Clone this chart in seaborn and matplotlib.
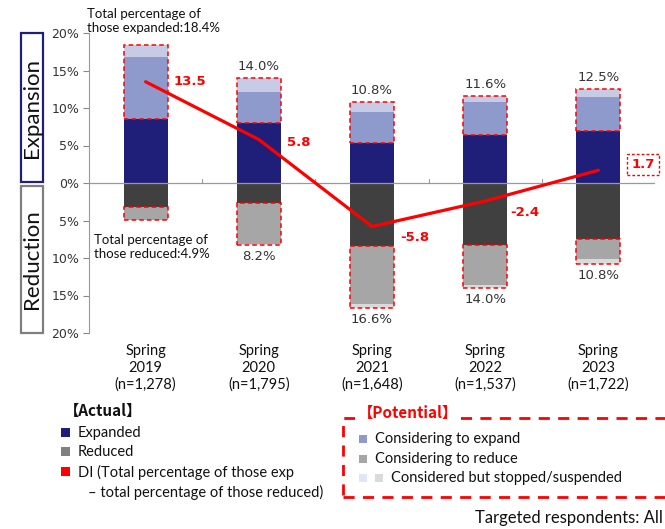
import matplotlib
matplotlib.use("Agg")
import matplotlib.pyplot as plt
from matplotlib.patches import Rectangle
import numpy as np
import pandas as pd
import seaborn as sns

# ---- data -----------------------------------------------------------------
periods = ["Spring\n2019\n(n=1,278)", "Spring\n2020\n(n=1,795)", "Spring\n2021\n(n=1,648)",
           "Spring\n2022\n(n=1,537)", "Spring\n2023\n(n=1,722)"]
expanded = [8.5, 8.0, 5.4, 6.4, 7.0]
considering_expand = [8.3, 4.2, 4.1, 4.4, 4.5]
stopped_expand = [1.6, 1.8, 1.3, 0.8, 1.0]
total_expanded = [18.4, 14.0, 10.8, 11.6, 12.5]

reduced = [3.2, 2.6, 8.4, 8.2, 7.5]
considering_reduce = [1.7, 5.5, 7.7, 5.4, 2.6]
stopped_reduce = [0.0, 0.1, 0.5, 0.4, 0.7]
total_reduced = [4.9, 8.2, 16.6, 14.0, 10.8]

di = [13.5, 5.8, -5.8, -2.4, 1.7]
y_ticks = [20, 15, 10, 5, 0, -5, -10, -15, -20]

# ---- colours --------------------------------------------------------------
C_EXP = "#1f1f7a"
C_CEXP = "#8e9acb"
C_SEXP = "#c7cbe6"
C_RED = "#404040"
C_CRED = "#a6a6a6"
C_SRED = "#dadada"
C_DI = "#ff0000"

sns.set_theme(style="white")
plt.rcParams["font.family"] = ["DejaVu Sans"]
LAT = ["Lato", "DejaVu Sans"]

df = pd.DataFrame({
    "period": periods,
    "exp": expanded,
    "exp_c": np.add(expanded, considering_expand),
    "exp_t": np.add(np.add(expanded, considering_expand), stopped_expand),
    "red": -np.array(reduced),
    "red_c": -np.add(reduced, considering_reduce),
    "red_t": -np.add(np.add(reduced, considering_reduce), stopped_reduce),
    "di": di,
})

fig = plt.figure(figsize=(6.65, 5.29), dpi=100)
ax = fig.add_axes([89 / 665, 1 - 333 / 529, (655 - 89) / 665, (333 - 33) / 529])

W = 0.39
# stacked bars: draw cumulative layers from the outermost inward
for col, colr in [("exp_t", C_SEXP), ("exp_c", C_CEXP), ("exp", C_EXP),
                  ("red_t", C_SRED), ("red_c", C_CRED), ("red", C_RED)]:
    sns.barplot(data=df, x="period", y=col, color=colr, width=W, ax=ax,
                saturation=1, edgecolor="none", linewidth=0, zorder=2)

# dashed outline around the "potential" part of each bar
for i in range(len(periods)):
    ax.add_patch(Rectangle((i - W / 2, df["exp"][i]), W, df["exp_t"][i] - df["exp"][i],
                           fill=False, edgecolor=C_DI, ls=(0, (3, 2)), lw=1.1, zorder=4))
    ax.add_patch(Rectangle((i - W / 2, df["red_t"][i]), W, df["red"][i] - df["red_t"][i],
                           fill=False, edgecolor=C_DI, ls=(0, (3, 2)), lw=1.1, zorder=4))

# DI line
sns.lineplot(data=df, x="period", y="di", color=C_DI, lw=2.3, ax=ax, sort=False, zorder=5)

ax.set_xlim(-0.5, 4.5)
ax.set_ylim(-20, 20)
ax.set_yticks(y_ticks)
ax.set_yticklabels([f"{abs(v)}%" for v in y_ticks], fontsize=9, color="#333333")
ax.set_xticks(range(len(periods)))
ax.set_xticklabels(periods, fontsize=10.5, family=LAT, color="#111111", linespacing=1.25)
ax.tick_params(axis="x", length=0, pad=8)
ax.tick_params(axis="y", length=4, width=0.8, color="#888888", left=True, pad=3)
ax.set_xlabel("")
ax.set_ylabel("")
for s in ["top", "right", "bottom"]:
    ax.spines[s].set_visible(False)
ax.spines["left"].set_color("#999999")
ax.spines["left"].set_linewidth(0.8)
ax.axhline(0, color="#999999", lw=0.9, zorder=3)
# small ticks on the zero line between categories
for b in [0.5, 1.5, 2.5, 3.5, 4.5]:
    ax.plot([b, b], [0, 0.5], color="#999999", lw=0.8, zorder=3)

# totals above / below the bars
for i in range(1, len(periods)):
    ax.text(i, total_expanded[i] + 0.7, f"{total_expanded[i]:.1f}%", ha="center",
            va="bottom", fontsize=9.5, color="#333333")
    ax.text(i, -total_reduced[i] - 0.7, f"{total_reduced[i]:.1f}%", ha="center",
            va="top", fontsize=9.5, color="#333333")

# DI value labels
di_offsets = [(0.25, 0.0), (0.25, -0.4), (0.25, -1.5), (0.22, -1.5)]
for i, (dx, dy) in enumerate(di_offsets):
    ax.text(i + dx, di[i] + dy, f"{di[i]:.1f}", ha="left", va="center",
            fontsize=9.5, color=C_DI, fontweight="bold")
ax.text(4.29, di[4] + 0.8, f"{di[4]:.1f}", ha="left", va="center", fontsize=9.5,
        color=C_DI, fontweight="bold",
        bbox=dict(boxstyle="square,pad=0.3", fc="white", ec=C_DI, ls=(0, (2, 1.5)), lw=1))


def fx(x):
    return x / 665


def fy(y):
    return 1 - y / 529


fig.text(fx(87), fy(21), "Total percentage of\nthose expanded:18.4%", fontsize=9.5,
         family=LAT, color="#111111", va="center", linespacing=1.3)
fig.text(fx(94), fy(247), "Total percentage of\nthose reduced:4.9%", fontsize=9.5,
         family=LAT, color="#111111", va="center", linespacing=1.3)

# side boxes
fig.patches.append(Rectangle((fx(21), fy(182)), fx(22), (182 - 33) / 529, transform=fig.transFigure,
                             fill=False, ec="#1f1f7a", lw=1.6))
fig.patches.append(Rectangle((fx(21), fy(333)), fx(22), (333 - 186) / 529, transform=fig.transFigure,
                             fill=False, ec="#7f7f7f", lw=1.6))
fig.text(fx(32), fy(108), "Expansion", rotation=90, ha="center", va="center", fontsize=16,
         family=LAT, color="#111111")
fig.text(fx(32), fy(259), "Reduction", rotation=90, ha="center", va="center", fontsize=16,
         family=LAT, color="#111111")

# legend: actual
fig.text(fx(64), fy(411), "【Actual】", fontsize=11, fontweight="bold",
         family=["Noto Sans CJK JP", "DejaVu Sans"], va="center", color="#111111")
act = [(C_EXP, "Expanded", 433), ("#808080", "Reduced", 452),
       (C_DI, "DI (Total percentage of those exp", 472)]
for c, lab, y in act:
    fig.patches.append(Rectangle((fx(61), fy(y + 4)), fx(9), 9 / 529, transform=fig.transFigure,
                                 fc=c, ec="none"))
    fig.text(fx(78), fy(y), lab, fontsize=10.5, family=LAT, va="center", color="#111111")
fig.text(fx(88), fy(492), "– total percentage of those reduced)", fontsize=10.5, family=LAT,
         va="center", color="#111111")

# legend: potential
fig.patches.append(Rectangle((fx(343), fy(497)), fx(340), (497 - 418) / 529,
                             transform=fig.transFigure, fill=False, ec=C_DI, lw=2,
                             ls=(0, (4, 3))))
fig.text(fx(358), fy(413), "【Potential】", fontsize=11, fontweight="bold", color=C_DI,
         family=["Noto Sans CJK JP", "DejaVu Sans"], va="center",
         bbox=dict(fc="white", ec="none", pad=2))
pot = [(C_CEXP, "Considering to expand", 439, 375), (C_CRED, "Considering to reduce", 459, 375)]
for c, lab, y, tx in pot:
    fig.patches.append(Rectangle((fx(359), fy(y + 4)), fx(8), 8 / 529, transform=fig.transFigure,
                                 fc=c, ec="none"))
    fig.text(fx(tx), fy(y), lab, fontsize=10.5, family=LAT, va="center", color="#111111")
fig.patches.append(Rectangle((fx(359), fy(482)), fx(8), 8 / 529, transform=fig.transFigure,
                             fc="#dde7f5", ec="none"))
fig.patches.append(Rectangle((fx(375), fy(482)), fx(8), 8 / 529, transform=fig.transFigure,
                             fc=C_SRED, ec="none"))
fig.text(fx(391), fy(478), "Considered but stopped/suspended", fontsize=10.5, family=LAT,
         va="center", color="#111111")

fig.text(fx(475), fy(518), "Targeted respondents: All", fontsize=12, family=LAT,
         va="center", color="#111111")

fig.savefig("out.png", dpi=100)
